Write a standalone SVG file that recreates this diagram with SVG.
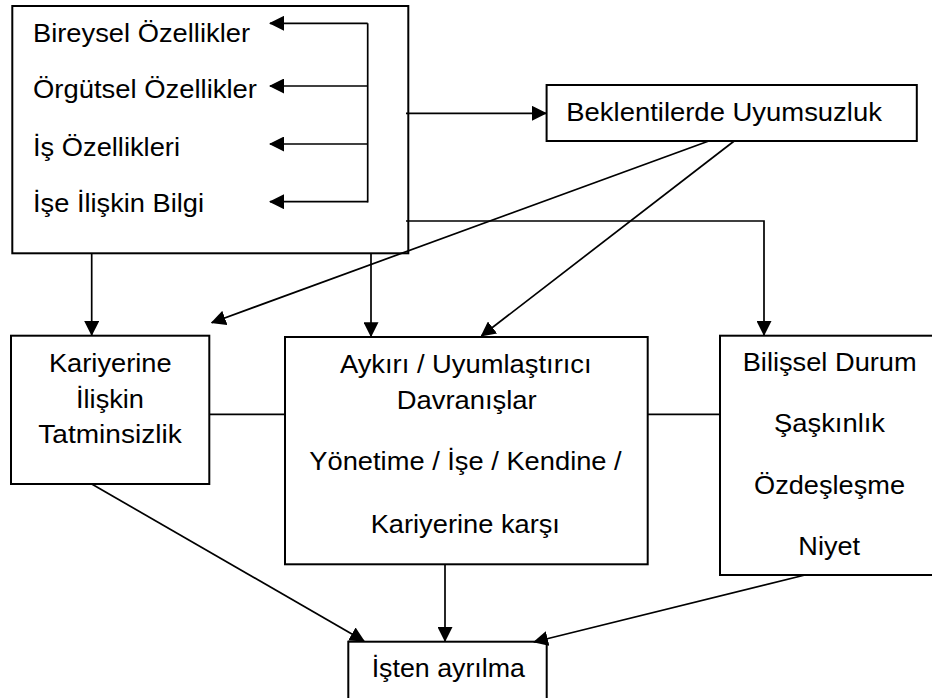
<svg xmlns="http://www.w3.org/2000/svg" width="932" height="698" viewBox="0 0 932 698">
  <style>
    .box { fill: #ffffff; stroke: #000000; stroke-width: 2; }
    .t { font-family: "Liberation Sans", Arial, sans-serif; font-size: 25px; fill: #000000; }
    .c { text-anchor: middle; }
    .ln { stroke: #000000; stroke-width: 1.7; fill: none; }
  </style>
  <defs>
    <marker id="arr" viewBox="0 0 15 15" markerWidth="15" markerHeight="15" markerUnits="userSpaceOnUse" refX="14" refY="7.5" orient="auto">
      <path d="M0,0 L15,7.5 L0,15 Z" fill="#000000"/>
    </marker>
  </defs>
  <rect x="0" y="0" width="932" height="698" fill="#ffffff"/>

  <g id="node-factors">
    <rect class="box" x="12.3" y="6" width="396" height="247.3"/>
    <text class="t" x="33" y="41.7" textLength="217" lengthAdjust="spacingAndGlyphs">Bireysel Özellikler</text>
    <text class="t" x="33" y="98.3" textLength="224" lengthAdjust="spacingAndGlyphs">Örgütsel Özellikler</text>
    <text class="t" x="33" y="156" textLength="147" lengthAdjust="spacingAndGlyphs">İş Özellikleri</text>
    <text class="t" x="33" y="212.3" textLength="171" lengthAdjust="spacingAndGlyphs">İşe İlişkin Bilgi</text>
  </g>

  <g id="node-beklenti">
    <rect class="box" x="546.6" y="85" width="370.2" height="56"/>
    <text class="t" x="566.3" y="120.7" textLength="315.6" lengthAdjust="spacingAndGlyphs">Beklentilerde Uyumsuzluk</text>
  </g>

  <g id="node-kariyer">
    <rect class="box" x="11" y="335.7" width="198.3" height="148.3"/>
    <text class="t c" x="110.3" y="371.7" textLength="122.7" lengthAdjust="spacingAndGlyphs">Kariyerine</text>
    <text class="t c" x="110" y="408.3" textLength="68" lengthAdjust="spacingAndGlyphs">İlişkin</text>
    <text class="t c" x="110" y="443.3" textLength="143.4" lengthAdjust="spacingAndGlyphs">Tatminsizlik</text>
  </g>

  <g id="node-davranis">
    <rect class="box" x="285" y="337" width="362.7" height="227.3"/>
    <text class="t c" x="465.8" y="373.3" textLength="251.7" lengthAdjust="spacingAndGlyphs">Aykırı / Uyumlaştırıcı</text>
    <text class="t c" x="466.7" y="409.3" textLength="140" lengthAdjust="spacingAndGlyphs">Davranışlar</text>
    <text class="t c" x="465.5" y="470" textLength="312.4" lengthAdjust="spacingAndGlyphs">Yönetime / İşe / Kendine /</text>
    <text class="t c" x="465.3" y="532.7" textLength="189.3" lengthAdjust="spacingAndGlyphs">Kariyerine karşı</text>
  </g>

  <g id="node-bilissel">
    <rect class="box" x="720" y="335.7" width="216" height="239.3"/>
    <text class="t c" x="829.7" y="370.7" textLength="174" lengthAdjust="spacingAndGlyphs">Bilişsel Durum</text>
    <text class="t c" x="829.5" y="432" textLength="111" lengthAdjust="spacingAndGlyphs">Şaşkınlık</text>
    <text class="t c" x="829.5" y="494" textLength="151" lengthAdjust="spacingAndGlyphs">Özdeşleşme</text>
    <text class="t c" x="829.2" y="555" textLength="61.7" lengthAdjust="spacingAndGlyphs">Niyet</text>
  </g>

  <g id="node-ayrilma">
    <rect class="box" x="348.3" y="641.7" width="198.4" height="62"/>
    <text class="t c" x="448.3" y="676.7" textLength="153.3" lengthAdjust="spacingAndGlyphs">İşten ayrılma</text>
  </g>

  <g id="connectors">
    <line class="ln" x1="367.7" y1="23.3" x2="367.7" y2="202.5"/>
    <line class="ln" x1="367.7" y1="23.3" x2="270" y2="23.3" marker-end="url(#arr)"/>
    <line class="ln" x1="367.7" y1="86" x2="270" y2="86" marker-end="url(#arr)"/>
    <line class="ln" x1="367.7" y1="144" x2="270" y2="144" marker-end="url(#arr)"/>
    <line class="ln" x1="367.7" y1="201.7" x2="270" y2="201.7" marker-end="url(#arr)"/>
    <line class="ln" x1="406" y1="113.3" x2="546" y2="113.3" marker-end="url(#arr)"/>
    <polyline class="ln" points="406,221 764,221 764,335" marker-end="url(#arr)"/>
    <line class="ln" x1="91.7" y1="253" x2="91.7" y2="335" marker-end="url(#arr)"/>
    <line class="ln" x1="371" y1="253" x2="371" y2="336.3" marker-end="url(#arr)"/>
    <line class="ln" x1="708.8" y1="141" x2="211.7" y2="322.7" marker-end="url(#arr)"/>
    <line class="ln" x1="734.2" y1="141" x2="481.4" y2="336" marker-end="url(#arr)"/>
    <line class="ln" x1="209.3" y1="414.3" x2="285" y2="414.3"/>
    <line class="ln" x1="647.7" y1="414.3" x2="720" y2="414.3"/>
    <line class="ln" x1="91.7" y1="484" x2="364" y2="641" marker-end="url(#arr)"/>
    <line class="ln" x1="445" y1="564.3" x2="445" y2="641" marker-end="url(#arr)"/>
    <line class="ln" x1="805" y1="575" x2="534" y2="642" marker-end="url(#arr)"/>
  </g>
</svg>
